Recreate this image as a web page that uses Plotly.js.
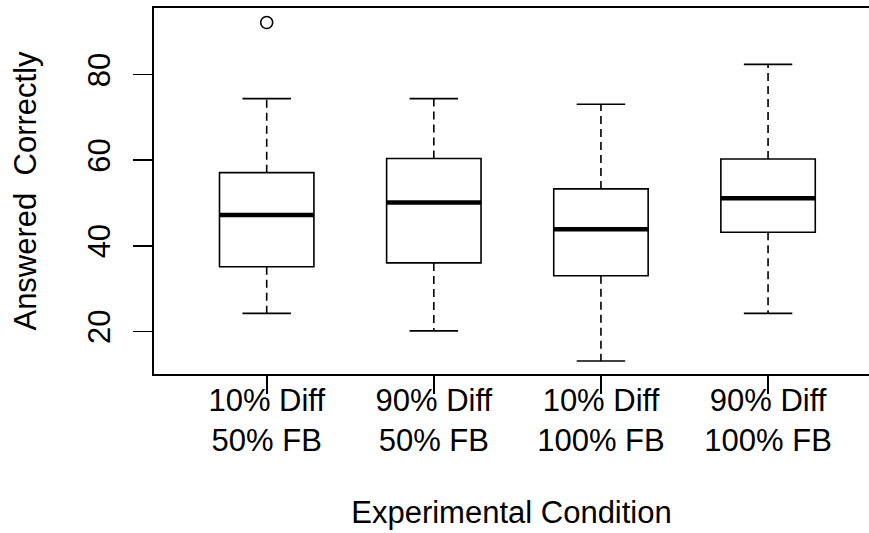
<!DOCTYPE html>
<html>
<head>
<meta charset="utf-8">
<script src="https://cdn.plot.ly/plotly-3.0.1.min.js"></script>
<style>html,body{margin:0;padding:0;background:#fff;overflow:hidden;}</style>
</head>
<body>
<div id="chart" style="width:869px;height:533px;"></div>
<script>
// Data
const categories = ["10% Diff<br>50% FB", "90% Diff<br>50% FB", "10% Diff<br>100% FB", "90% Diff<br>100% FB"];
const positions = [1, 2, 3, 4];
const lowerWhisker = [24.2, 20.1, 13.05, 24.2];
const q1Values = [35.1, 36.0, 33.0, 43.15];
const medianValues = [47.2, 50.1, 43.85, 51.1];
const q3Values = [57.1, 60.4, 53.3, 60.3];
const upperWhisker = [74.4, 74.4, 73.1, 82.4];
const outlierX = [1];
const outlierY = [92.2];
const yTicks = [20, 40, 60, 80];

const boxWidth = 0.565;
const capHalf = 0.145;
const FONT = "Liberation Sans, Arial, sans-serif";
const FS = 31;

const boxTrace = {
  type: "box",
  x: positions,
  q1: q1Values,
  median: medianValues,
  q3: q3Values,
  lowerfence: q1Values,
  upperfence: q3Values,
  width: boxWidth,
  whiskerwidth: 0,
  fillcolor: "#ffffff",
  line: {color: "#000000", width: 1.6},
  hoverinfo: "skip",
  boxpoints: false
};

function segs(xFn, yFn) {
  const xs = [], ys = [];
  positions.forEach((p, i) => {
    const a = xFn(p, i), b = yFn(p, i);
    xs.push(a[0], a[1], null);
    ys.push(b[0], b[1], null);
  });
  return {xs, ys};
}

const med = segs(p => [p - boxWidth / 2, p + boxWidth / 2], (p, i) => [medianValues[i], medianValues[i]]);
const upW = segs(p => [p, p], (p, i) => [q3Values[i], upperWhisker[i]]);
const loW = segs(p => [p, p], (p, i) => [q1Values[i], lowerWhisker[i]]);
const upC = segs(p => [p - capHalf, p + capHalf], (p, i) => [upperWhisker[i], upperWhisker[i]]);
const loC = segs(p => [p - capHalf, p + capHalf], (p, i) => [lowerWhisker[i], lowerWhisker[i]]);

const traces = [
  {type: "scatter", mode: "lines", x: upW.xs.concat(loW.xs), y: upW.ys.concat(loW.ys),
   line: {color: "#000", width: 1.6, dash: "8px,5px"}, hoverinfo: "skip"},
  {type: "scatter", mode: "lines", x: upC.xs.concat(loC.xs), y: upC.ys.concat(loC.ys),
   line: {color: "#000", width: 1.6}, hoverinfo: "skip"},
  boxTrace,
  {type: "scatter", mode: "lines", x: med.xs, y: med.ys,
   line: {color: "#000", width: 4.5}, hoverinfo: "skip"},
  {type: "scatter", mode: "markers", x: outlierX, y: outlierY,
   marker: {symbol: "circle-open", size: 12, color: "#000", line: {width: 1.6, color: "#000"}}, hoverinfo: "skip"}
];

const layout = {
  width: 869, height: 533,
  margin: {l: 154, r: 0, t: 8, b: 159},
  paper_bgcolor: "#ffffff", plot_bgcolor: "#ffffff",
  showlegend: false,
  font: {family: FONT, size: FS, color: "#000"},
  xaxis: {
    range: [0.3256, 4.604],
    tickvals: positions, ticktext: categories,
    showline: true, mirror: true, linecolor: "#000", linewidth: 1.6,
    ticks: "outside", ticklen: 18, tickwidth: 1.6, tickcolor: "#000",
    showgrid: false, zeroline: false,
    tickfont: {family: FONT, size: FS, color: "#000"},
    ticklabelstandoff: -20,
    title: {text: "Experimental Condition", font: {family: FONT, size: FS, color: "#000"}, standoff: 44}
  },
  yaxis: {
    range: [10.02, 95.59],
    tickvals: yTicks, ticktext: yTicks.map(String),
    tickangle: -90,
    showline: true, mirror: false, linecolor: "#000", linewidth: 1.6,
    ticks: "outside", ticklen: 19, tickwidth: 1.6, tickcolor: "#000",
    showgrid: false, zeroline: false,
    tickfont: {family: FONT, size: FS, color: "#000"},
    ticklabelstandoff: 11,
    title: {text: "Answered  Correctly", font: {family: FONT, size: FS, color: "#000"}, standoff: 36}
  }
};

Plotly.newPlot("chart", traces, layout, {staticPlot: true, displayModeBar: false});
</script>
</body>
</html>
